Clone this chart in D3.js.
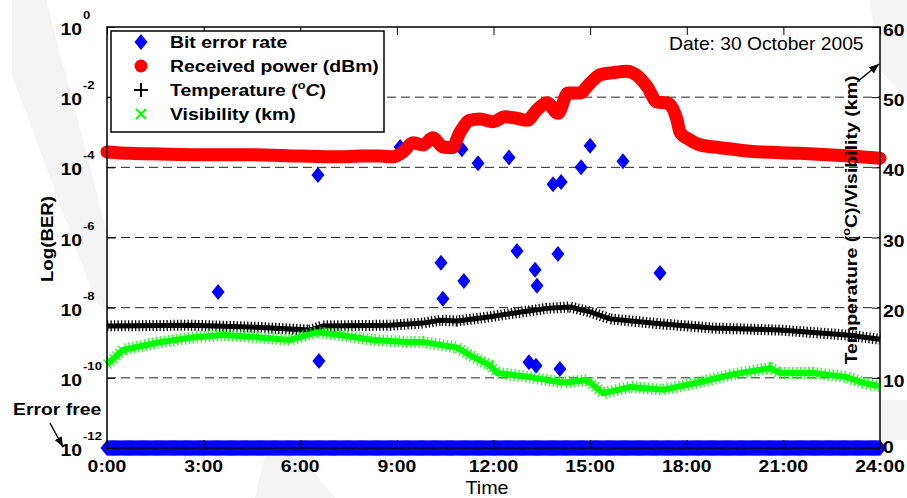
<!DOCTYPE html>
<html><head><meta charset="utf-8">
<script src="https://cdn.jsdelivr.net/npm/d3@7"></script>
<style>
html,body{margin:0;padding:0;background:#fff;}
svg{display:block;font-family:"Liberation Sans",Arial,sans-serif;}
</style></head>
<body>
<svg id="chart" width="907" height="498"></svg>
<script>
// ---------------- data ----------------
const hourTicks = [0, 3, 6, 9, 12, 15, 18, 21, 24];
const hourLabels = ["0:00","3:00","6:00","9:00","12:00","15:00","18:00","21:00","24:00"];
const berExponents = [0, -2, -4, -6, -8, -10, -12];
const rightTicks = [0, 10, 20, 30, 40, 50, 60];

// bit errors observed (time in hours, BER)
const berTimes  = [3.45, 6.55, 6.58, 9.10, 10.37, 10.43, 11.02, 11.08, 11.52, 12.48, 12.73, 13.10, 13.29, 13.35, 13.32, 13.85, 14.00, 14.10, 14.06, 14.72, 15.00, 16.02, 17.17];
const berValues = [2.8e-8, 6.0e-5, 3.0e-10, 3.8e-4, 1.9e-7, 1.8e-8, 3.3e-4, 5.8e-8, 1.3e-4, 1.9e-4, 4.1e-7, 2.8e-10, 1.2e-7, 4.2e-8, 2.2e-10, 3.3e-5, 3.4e-7, 3.8e-5, 1.8e-10, 1.0e-4, 4.1e-4, 1.5e-4, 9.8e-8];
// error-free samples are plotted at the floor value
const errorFreeValue = 1e-12;
const sampleStepHours = 1 / 30;

// received power (plotted on right axis)
const powerTimes  = [0, 0.71, 1.65, 2.89, 4.44, 5.99, 7.23, 7.85, 8.48, 8.88, 9.19, 9.50, 9.81, 10.12, 10.43, 10.71, 10.96, 11.27, 11.58, 11.98, 12.36, 12.73, 13.04, 13.35, 13.66, 14.00, 14.31, 14.68, 15.00, 15.31, 15.71, 16.14, 16.39, 16.77, 17.08, 17.39, 17.70, 17.79, 18.10, 18.41, 19.03, 19.96, 21.51, 23.07, 24.0];
const powerValues = [42.2, 42.0, 41.9, 41.8, 41.8, 41.6, 41.5, 41.6, 41.6, 41.5, 42.2, 43.5, 43.2, 44.2, 42.9, 42.8, 45.0, 46.7, 46.9, 46.5, 47.2, 47.0, 46.7, 48.2, 49.2, 47.7, 50.6, 50.6, 52.0, 53.2, 53.5, 53.7, 53.3, 51.5, 49.3, 49.2, 46.7, 45.0, 43.9, 43.2, 42.8, 42.3, 42.0, 41.6, 41.3];

// temperature (deg C)
const tempTimes  = [0, 2.58, 4.66, 6.30, 6.71, 8.79, 9.81, 10.34, 10.87, 11.89, 12.60, 13.66, 14.37, 15.00, 15.62, 17.17, 18.81, 20.89, 22.97, 24.0];
const tempValues = [17.4, 17.5, 17.2, 16.8, 17.4, 17.5, 17.8, 18.2, 18.1, 18.7, 19.2, 19.9, 20.1, 19.4, 18.4, 17.7, 17.1, 16.8, 16.1, 15.5];

// visibility (km)
const visTimes  = [0, 0.50, 1.55, 2.58, 3.60, 4.66, 5.68, 6.52, 7.23, 8.26, 9.31, 9.81, 10.34, 10.87, 11.36, 11.89, 12.11, 13.13, 14.16, 14.90, 15.40, 16.24, 17.26, 18.32, 19.34, 20.58, 20.89, 21.92, 22.97, 23.47, 24.0];
const visValues = [11.9, 14.0, 15.0, 15.7, 16.1, 15.8, 15.4, 16.5, 16.1, 15.4, 15.1, 15.1, 14.7, 14.3, 13.0, 11.8, 10.7, 10.1, 9.3, 9.7, 7.8, 8.7, 8.3, 9.3, 10.4, 11.4, 10.7, 10.7, 10.1, 9.3, 8.8];

const legendLabels = ["Bit error rate", "Received power (dBm)", "Temperature", "Visibility (km)"];

// ---------------- layout ----------------
const L = 107, R = 880, T = 27, B = 448;
const SX = 1.14; // horizontal glyph stretch
const svg = d3.select("#chart");

const x  = d3.scaleLinear().domain([0, 24]).range([L, R]);
const yL = d3.scaleLog().domain([1e-12, 1]).range([B, T]);
const yR = d3.scaleLinear().domain([0, 60]).range([B, T]);

function text(g, px, py, str, o = {}) {
  const t = g.append("text")
    .attr("transform", `translate(${px},${py})` + (o.rot ? ` rotate(${o.rot})` : "") + ` scale(${o.sx || SX},1)`)
    .attr("font-size", o.size || 17)
    .attr("font-weight", o.weight || "bold")
    .attr("text-anchor", o.anchor || "start")
    .attr("fill", "#000");
  if (str !== null) t.text(str);
  return t;
}

// faint watermark
const wm = svg.append("g").attr("fill", "#f4f4f4");
wm.append("path").attr("d", "M12,0 L46,0 L112,250 L112,320 L95,300 L12,75 Z");
wm.append("path").attr("d", "M255,498 L335,498 L300,455 L265,455 Z");
wm.append("path").attr("d", "M870,0 L907,0 L907,100 L880,70 Z");
wm.append("path").attr("d", "M882,400 L907,400 L907,440 L882,440 Z");

// plot background
svg.append("rect").attr("x", L).attr("y", T).attr("width", R - L).attr("height", B - T).attr("fill", "#fff");

// gridlines
svg.append("g").selectAll("line").data(berExponents.filter(e => e !== 0 && e !== -12)).join("line")
  .attr("x1", L).attr("x2", R)
  .attr("y1", e => yL(Math.pow(10, e))).attr("y2", e => yL(Math.pow(10, e)))
  .attr("stroke", "#222").attr("stroke-width", 1).attr("stroke-dasharray", "9,5");

const diamond = "M0,-8L6.5,0L0,8L-6.5,0Z";

// error-free floor band
const efTimes = d3.range(0, 24 + 1e-9, sampleStepHours);
svg.append("g").selectAll("path").data(efTimes).join("path")
  .attr("d", diamond)
  .attr("transform", d => `translate(${x(d)},${yL(errorFreeValue)})`)
  .attr("fill", "#0000ff");

// BER points
svg.append("g").selectAll("path").data(berTimes).join("path")
  .attr("d", diamond)
  .attr("transform", (d, i) => `translate(${x(d)},${yL(berValues[i])})`)
  .attr("fill", "#0000ff");

// received power
const linePow = d3.line().x((d, i) => x(powerTimes[i])).y(d => yR(d)).curve(d3.curveMonotoneX);
svg.append("path").attr("d", linePow(powerValues))
  .attr("fill", "none").attr("stroke", "#ff0000").attr("stroke-width", 13)
  .attr("stroke-linecap", "round").attr("stroke-linejoin", "round");

// temperature
const lineT = d3.line().x((d, i) => x(tempTimes[i])).y(d => yR(d));
svg.append("path").attr("d", lineT(tempValues))
  .attr("fill", "none").attr("stroke", "#000").attr("stroke-width", 5);
svg.append("path").attr("d", lineT(tempValues))
  .attr("fill", "none").attr("stroke", "#000").attr("stroke-width", 11)
  .attr("stroke-dasharray", "1.3,2.2");

// visibility
const lineV = d3.line().x((d, i) => x(visTimes[i])).y(d => yR(d));
svg.append("path").attr("d", lineV(visValues))
  .attr("fill", "none").attr("stroke", "#00ff00").attr("stroke-width", 6);
svg.append("path").attr("d", lineV(visValues))
  .attr("fill", "none").attr("stroke", "#00ff00").attr("stroke-width", 12)
  .attr("stroke-dasharray", "1.5,2.5").attr("opacity", 0.8);

// axes frame
const ax = svg.append("g");
ax.append("rect").attr("x", L).attr("y", T).attr("width", R - L).attr("height", B - T)
  .attr("fill", "none").attr("stroke", "#000").attr("stroke-width", 1.5);

// x ticks (bottom & top, inward)
ax.append("g").attr("transform", `translate(0,${B})`)
  .call(d3.axisBottom(x).tickValues(hourTicks).tickSize(-8).tickFormat(""))
  .call(g => g.select(".domain").remove())
  .selectAll("line").attr("stroke", "#000").attr("stroke-width", 1);
ax.append("g").attr("transform", `translate(0,${T})`)
  .call(d3.axisTop(x).tickValues(hourTicks).tickSize(-8).tickFormat(""))
  .call(g => g.select(".domain").remove())
  .selectAll("line").attr("stroke", "#000").attr("stroke-width", 1);
// left & right ticks
ax.append("g").attr("transform", `translate(${L},0)`)
  .call(d3.axisLeft(yL).tickValues(berExponents.map(e => Math.pow(10, e))).tickSize(-8).tickFormat(""))
  .call(g => g.select(".domain").remove())
  .selectAll("line").attr("stroke", "#000").attr("stroke-width", 1);
ax.append("g").attr("transform", `translate(${R},0)`)
  .call(d3.axisRight(yR).tickValues(rightTicks).tickSize(-8).tickFormat(""))
  .call(g => g.select(".domain").remove())
  .selectAll("line").attr("stroke", "#000").attr("stroke-width", 1);

// x tick labels
hourTicks.forEach((h, i) => text(svg, x(h), 472, hourLabels[i], { anchor: "middle" }));

// left tick labels 10^k
berExponents.forEach(e => {
  const yy = yL(Math.pow(10, e));
  text(svg, 82, yy + 8, "10", { anchor: "end" });
  text(svg, 83, yy - 8, String(e), { size: 11.5 });
});

// right tick labels
rightTicks.forEach(v => text(svg, 883, yR(v) + (v === 0 ? 5 : 9), String(v)));

// axis titles
text(svg, 487, 494, "Time", { weight: "normal", size: 18, sx: 1.1, anchor: "middle" });
text(svg, 53, 239, "Log(BER)", { rot: -90, anchor: "middle", sx: 1.1 });
{
  const t = text(svg, 857, 220, null, { rot: -90, anchor: "middle", sx: 1.15 });
  t.append("tspan").text("Temperature (");
  t.append("tspan").attr("font-size", 11).attr("dy", -7).text("o");
  t.append("tspan").attr("dy", 7).text("C)/Visibility (km)");
}

// date
text(svg, 669, 50, "Date: 30 October 2005", { weight: "normal", size: 17.5, sx: 1.1 });

// legend
const lg = svg.append("g");
lg.append("rect").attr("x", 111).attr("y", 31).attr("width", 273).attr("height", 101)
  .attr("fill", "#fff").attr("stroke", "#000").attr("stroke-width", 1.5);
const rowY = [48, 72, 96, 120];
const mx = 141;
lg.append("path").attr("d", diamond).attr("transform", `translate(${mx},${rowY[0] - 6})`).attr("fill", "#0000ff");
lg.append("circle").attr("cx", mx).attr("cy", rowY[1] - 6).attr("r", 6.5).attr("fill", "#ff0000");
lg.append("path").attr("d", "M-7,0H7M0,-7V7").attr("transform", `translate(${mx},${rowY[2] - 6})`)
  .attr("stroke", "#000").attr("stroke-width", 2);
lg.append("path").attr("d", "M-5,-5L5,5M-5,5L5,-5").attr("transform", `translate(${mx},${rowY[3] - 6})`)
  .attr("stroke", "#00ff00").attr("stroke-width", 2);
text(lg, 170, rowY[0], legendLabels[0]);
text(lg, 170, rowY[1], legendLabels[1]);
{
  const t = text(lg, 170, rowY[2], null);
  t.append("tspan").text(legendLabels[2] + " (");
  t.append("tspan").attr("font-size", 11).attr("dy", -7).text("o");
  t.append("tspan").attr("dy", 7).attr("font-style", "italic").text("C");
  t.append("tspan").text(")");
}
text(lg, 170, rowY[3], legendLabels[3]);

// annotations: arrows
const defs = svg.append("defs");
defs.append("marker").attr("id", "ah").attr("viewBox", "0 0 10 10").attr("refX", 10).attr("refY", 5)
  .attr("markerWidth", 10).attr("markerHeight", 10).attr("markerUnits", "userSpaceOnUse").attr("orient", "auto")
  .append("path").attr("d", "M0,1 L10,5 L0,9 Z").attr("fill", "#000");
svg.append("line").attr("x1", 857).attr("y1", 82).attr("x2", 879).attr("y2", 64)
  .attr("stroke", "#000").attr("stroke-width", 1.5).attr("marker-end", "url(#ah)");
text(svg, 13, 415, "Error free");
svg.append("line").attr("x1", 50).attr("y1", 423).attr("x2", 63).attr("y2", 447)
  .attr("stroke", "#000").attr("stroke-width", 1.5).attr("marker-end", "url(#ah)");
</script>
</body></html>
